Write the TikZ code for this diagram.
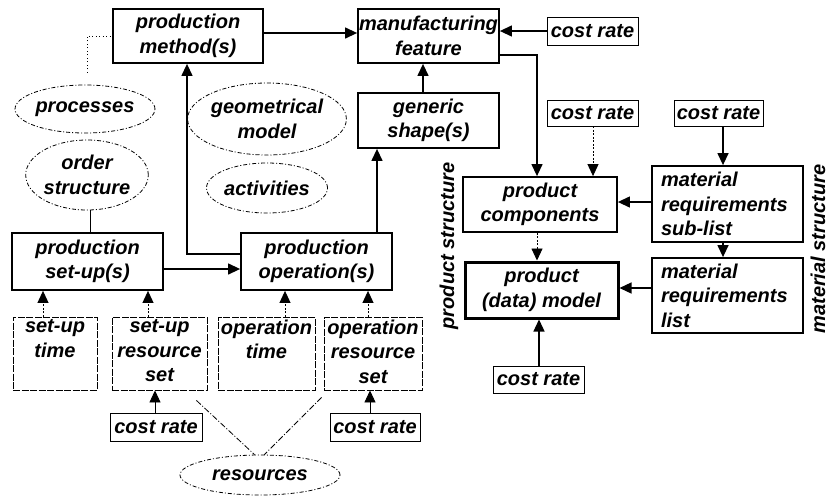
\documentclass[tikz,border=0pt]{standalone}
\usepackage{fontspec}
\setmainfont{Liberation Sans}
\usetikzlibrary{arrows.meta,shapes.geometric,calc}
\newcommand\lbl{\fontsize{20}{24.5}\selectfont\bfseries\itshape}

\tikzset{
  mainbox/.style={draw, line width=1.8pt, inner sep=0pt, align=center, font=\lbl},
  attrbox/.style={draw, line width=0.9pt, dash pattern=on 7pt off 1.5pt, inner sep=0pt, font=\lbl},
  costbox/.style={draw, line width=0.9pt, inner sep=0pt, font=\lbl},
  oval/.style={ellipse, draw, line width=0.8pt, dash pattern=on 4pt off 2pt on 1pt off 2pt,
    inner sep=0pt, align=center, font=\lbl},
  arr/.style={-{Triangle[length=12pt,width=11pt]}, line width=1.3pt},
  thinarr/.style={arr, line width=0.9pt, dash pattern=on 2pt off 1.5pt},
  dottedline/.style={line width=0.9pt, dash pattern=on 1pt off 2.5pt},
  dashdotline/.style={line width=0.8pt, dash pattern=on 6pt off 2pt on 1pt off 2pt},
}

\begin{document}
\begin{tikzpicture}[x=1pt,y=-1pt]
\useasboundingbox (0,0) rectangle (829,496);

% upper row
\node[mainbox, minimum width=150, minimum height=54] (pm) at (188,36) {production\\method(s)};
\node[mainbox, minimum width=141, minimum height=54] (mf) at (428.5,36) {manufacturing\\feature};
\node[costbox, minimum width=91, minimum height=28] (crTop) at (592.5,31) {cost rate};
\node[mainbox, minimum width=141, minimum height=55] (gs) at (428.5,120.5) {generic\\shape(s)};

% ovals
\node[oval, minimum width=120, minimum height=48] (proc) at (85,109) {processes};
\node[oval, minimum width=120, minimum height=70] (ord) at (87,175) {order\\structure};
\node[oval, minimum width=135, minimum height=72] (geo) at (267,119) {geometrical\\model};
\node[oval, minimum width=121, minimum height=50] (act) at (267,188) {activities};
\node[oval, minimum width=160, minimum height=40] (res) at (260,475) {resources};

% production boxes
\node[mainbox, minimum width=151, minimum height=57] (psu) at (87.5,261.5) {production\\set-up(s)};
\node[mainbox, minimum width=151, minimum height=57] (pop) at (316.5,261.5) {production\\operation(s)};

% attribute boxes
\node[attrbox, minimum width=84, minimum height=73] (sut) at (55,353.5)
  {\parbox[c][68pt][t]{80pt}{\centering set-up\\time}};
\node[attrbox, minimum width=95, minimum height=73] (surs) at (159.5,353.5)
  {\parbox[c][68pt][t]{91pt}{\centering set-up\\resource\\set}};
\node[attrbox, minimum width=97, minimum height=73] (opt) at (266.5,353.5)
  {\parbox[c][68pt][t]{93pt}{\centering operation\\time}};
\node[attrbox, minimum width=98, minimum height=73] (oprs) at (373,353.5)
  {\parbox[c][68pt][t]{94pt}{\centering operation\\resource\\set}};
\node[costbox, minimum width=92, minimum height=28] (crSU) at (156,427) {cost rate};
\node[costbox, minimum width=90, minimum height=28] (crOP) at (375,427) {cost rate};

% product side
\node[mainbox, minimum width=154, minimum height=55] (pc) at (540,204.5) {product\\components};
\node[mainbox, line width=3pt, minimum width=153, minimum height=56] (pdm) at (541.5,290) {product\\(data) model};
\node[mainbox, align=left, text width=133pt, inner xsep=9pt, minimum height=76] (mrs) at (727.5,204)
  {material\\requirements\\sub-list};
\node[mainbox, align=left, text width=133pt, inner xsep=9pt, minimum height=75] (mrl) at (727.5,295.5)
  {material\\requirements\\list};
\node[costbox, minimum width=91, minimum height=26] (crPC) at (592.5,113) {cost rate};
\node[costbox, minimum width=89, minimum height=26] (crMR) at (718.5,113) {cost rate};
\node[costbox, minimum width=91, minimum height=27] (crPD) at (538.5,379.5) {cost rate};

\node[rotate=90, font=\lbl] (ps) at (449,246) {product structure};
\node[rotate=90, font=\lbl] (ms) at (818,249) {material structure};

% connectors: production side
\draw[arr] ($(pm.east)+(0,-3)$) -- ($(mf.west)+(0,-3)$);
\draw[arr] (crTop.west) -- (crTop.west -| mf.east);
\path ($(gs.north)+(-5.5,0)$) coordinate (g1);
\draw[arr] (g1) -- (g1 |- mf.south);
\path ($(pop.north)+(60.5,0)$) coordinate (p1);
\draw[arr] (p1) -- (p1 |- gs.south);
\path ($(pop.west)+(0,-7.5)$) coordinate (p2);
\path ($(pm.south)+(-1,0)$) coordinate (p3);
\draw[arr] (p2) -| (p3);
\path ($(psu.east)+(0,7.5)$) coordinate (p4);
\draw[arr] (p4) -- (p4 -| pop.west);

\path ($(sut.north)+(-12,0)$) coordinate (a1);
\draw[thinarr] (a1) -- (a1 |- psu.south);
\path ($(surs.north)+(-11.5,0)$) coordinate (a2);
\draw[thinarr] (a2) -- (a2 |- psu.south);
\path ($(opt.north)+(18.5,0)$) coordinate (a3);
\draw[thinarr] (a3) -- (a3 |- pop.south);
\path ($(oprs.north)+(-5,0)$) coordinate (a4);
\draw[thinarr] (a4) -- (a4 |- pop.south);
\path ($(crSU.north)+(-1,0)$) coordinate (a5);
\draw[arr, line width=0.9pt] (a5) -- (a5 |- surs.south);
\path ($(crOP.north)+(-5,0)$) coordinate (a6);
\draw[arr, line width=0.9pt] (a6) -- (a6 |- oprs.south);

% annotation lines
\draw[dottedline] ($(proc.north)+(2,-12)$) |- (pm.west);
\path ($(ord.south)+(3,0)$) coordinate (o1);
\draw[line width=0.9pt] (o1) -- (o1 |- psu.north);
\draw[dottedline] ($(geo.east)+(0,-1)$) -- ($(geo.east)+(0,-1)$ -| gs.west);
\path ($(surs.south east)+(-11,10)$) coordinate (r1);
\path ($(oprs.south west)+(-2,7)$) coordinate (r2);
\draw[dashdotline] (r1) -- (res.105);
\draw[dashdotline] (r2) -- (res.78);

% connectors: product side
\path ($(pc.north)+(-3,0)$) coordinate (c1);
\draw[arr] ($(mf.east)+(0,19)$) -| (c1);
\path ($(crPC.south)+(0.5,0)$) coordinate (c2);
\draw[thinarr] (c2) -- (c2 |- pc.north);
\path ($(crMR.south)+(4.5,0)$) coordinate (c3);
\draw[arr] (c3) -- (c3 |- mrs.north);
\path ($(mrs.west)+(0,-2)$) coordinate (c4);
\draw[arr] (c4) -- (c4 -| pc.east);
\path ($(mrs.south)+(-4.5,0)$) coordinate (c5);
\draw[arr] (c5) -- (c5 |- mrl.north);
\path ($(pc.south)+(-3,0)$) coordinate (c6);
\draw[thinarr] (c6) -- (c6 |- pdm.north);
\path ($(mrl.west)+(0,-7.5)$) coordinate (c7);
\draw[arr] (c7) -- (c7 -| pdm.east);
\path ($(crPD.north)+(0.5,0)$) coordinate (c8);
\draw[arr] (c8) -- (c8 |- pdm.south);
\end{tikzpicture}
\end{document}
